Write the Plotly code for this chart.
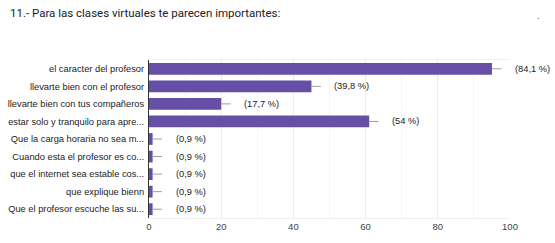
import plotly.graph_objects as go

categories = [
    "el caracter del profesor",
    "llevarte bien con el profesor",
    "llevarte bien con tus compañeros",
    "estar solo y tranquilo para apre...",
    "Que la carga horaria no sea m...",
    "Cuando esta el profesor es co...",
    "que el internet sea estable cos...",
    "que explique bienn",
    "Que el profesor escuche las su...",
]
counts = [95, 45, 20, 61, 1, 1, 1, 1, 1]
pct_labels = ["(84,1 %)", "(39,8 %)", "(17,7 %)", "(54 %)", "(0,9 %)", "(0,9 %)", "(0,9 %)", "(0,9 %)", "(0,9 %)"]
x_ticks = [0, 20, 40, 60, 80, 100]

FONT = "Liberation Sans, Arial"
L, R, T, B = 149, 45, 60, 25
PW, PH = 555 - L - R, 243 - T - B

fig = go.Figure()
fig.add_trace(go.Bar(
    x=counts, y=categories, orientation="h",
    marker=dict(color="#674ea7", line=dict(width=0)),
    error_x=dict(type="data", symmetric=False, array=[2.6] * len(counts),
                 arrayminus=[0] * len(counts), color="#9e9e9e", thickness=1, width=0),
    hoverinfo="skip",
))

for c, v, t in zip(categories, counts, pct_labels):
    fig.add_annotation(x=v, y=c, text=t, showarrow=False, xanchor="left",
                       xshift=21, font=dict(family=FONT, size=9.3, color="#222222"))

fig.add_annotation(xref="paper", yref="paper", x=-(L - 8) / PW, y=1 + (T - 13) / PH, xanchor="left", yanchor="middle",
                   text="11.- Para las clases virtuales te parecen importantes:", showarrow=False,
                   font=dict(family="Roboto, Arial", size=11.5, color="#202124"))
fig.add_annotation(xref="paper", yref="paper", x=(538 - L) / PW, y=1 + (T - 15) / PH, xanchor="center", yanchor="middle",
                   text=".", showarrow=False, font=dict(family="Roboto", size=10, color="#555555"))

fig.update_layout(
    width=555, height=243,
    margin=dict(l=L, r=R, t=T, b=B, autoexpand=False),
    paper_bgcolor="white", plot_bgcolor="white",
    showlegend=False, bargap=0.33,
    font=dict(family=FONT, size=9.3, color="#222222"),
)
fig.update_xaxes(range=[0, 100], tickvals=x_ticks, showgrid=True, gridcolor="#ebebeb", gridwidth=1,
                 minor=dict(dtick=10, showgrid=True, gridcolor="#f4f4f4"),
                 zeroline=False, showline=True, linecolor="#f0f0f0", mirror=True, automargin=False,
                 tickfont=dict(size=9.5, color="#444444"), ticks="", fixedrange=True)
fig.update_yaxes(autorange="reversed", showgrid=False, ticks="", showline=True, linecolor="#333333",
                 automargin=False, tickfont=dict(size=9.3, color="#222222"), ticklabelstandoff=2,
                 fixedrange=True)

fig.write_html("out.html", config={"displayModeBar": False},
               post_script="document.body.style.margin='0';document.body.style.overflow='hidden';")
